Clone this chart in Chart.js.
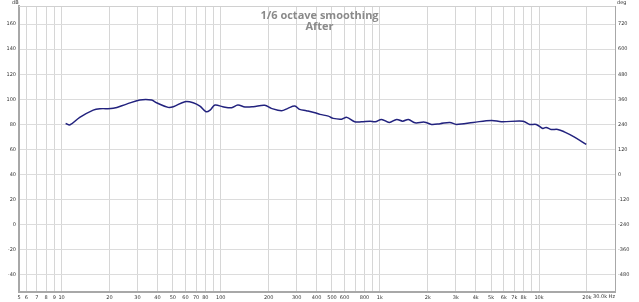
<!DOCTYPE html>
<html>
<head>
<meta charset="utf-8">
<script src="https://cdn.jsdelivr.net/npm/chart.js@4.4.1/dist/chart.umd.min.js"></script>
<style>
  html, body { margin: 0; padding: 0; background: #fff; }
  #wrap { width: 639px; height: 302px; }
</style>
</head>
<body>
<div id="wrap"><canvas id="spl" width="639" height="302"></canvas></div>
<script>
const freqHz = [10.6, 11.3, 13.0, 15.8, 17.4, 21.1, 25.6, 31.0, 36.8, 39.5, 46.7, 50.3, 59.6, 67.1, 74.0,
  80.8, 85.7, 91.9, 103, 117, 128, 142, 160, 189, 208, 241, 264, 292, 313, 345, 391, 420, 474,
  509, 575, 620, 695, 766, 868, 935, 1025, 1145, 1275, 1390, 1510, 1660, 1910, 2110, 2390, 2750,
  3030, 3860, 5030, 5810, 7930, 8730, 9600, 10550, 11070, 11900, 13100, 14400, 16600, 19800];
const splDb = [80.8, 79.7, 85.6, 91.4, 92.5, 92.8, 96.2, 99.4, 99.4, 97.3, 93.6, 94.1, 98.1, 97.3, 94.6,
  90.1, 91.4, 95.4, 94.1, 93.3, 95.4, 93.9, 94.1, 95.2, 92.8, 90.9, 92.8, 94.6, 92.0, 90.9, 89.3, 88.0, 86.6,
  84.8, 84.2, 85.6, 82.1, 82.1, 82.6, 82.1, 84.0, 81.6, 84.0, 82.6, 84.0, 81.3, 81.8, 80.0, 80.6, 81.6,
  80.0, 81.6, 83.2, 82.1, 82.6, 80.0, 80.0, 76.8, 77.6, 76.0, 76.0, 74.1, 70.1, 64.0];

const tickHz = [5.4, 6, 7, 8, 9, 10, 20, 30, 40, 50, 60, 70, 80, 90, 100, 200, 300, 400, 500, 600, 700, 800, 900,
  1000, 2000, 3000, 4000, 5000, 6000, 7000, 8000, 9000, 10000, 20000, 30000];
const tickLabels = ['5', '6', '7', '8', '9', '10', '20', '30', '40', '50', '60', '70', '80', '', '100', '200', '300', '400', '500', '600', '', '800', '',
  '1k', '2k', '3k', '4k', '5k', '6k', '7k', '8k', '', '10k', '20k', ''];
const dbTicks = [-40, -20, 0, 20, 40, 60, 80, 100, 120, 140, 160];
const degTicks = [-480, -360, -240, -120, 0, 120, 240, 360, 480, 600, 720];

const titleLines = ['1/6 octave smoothing', 'After'];

const tickFont = { family: 'DejaVu Sans', size: 5 };

const overlay = {
  id: 'overlay',
  afterDraw(chart) {
    const { ctx, chartArea: a } = chart;
    ctx.save();
    ctx.strokeStyle = '#d0d0d0';
    ctx.lineWidth = 1;
    ctx.beginPath();
    ctx.moveTo(a.left, a.top + 0.5);
    ctx.lineTo(a.right, a.top + 0.5);
    ctx.stroke();

    ctx.fillStyle = '#8a8a8a';
    ctx.textAlign = 'center';
    ctx.textBaseline = 'alphabetic';
    ctx.font = 'bold 11px "Open Sans"';
    ctx.fillText(titleLines[0], 319.5, 19);
    ctx.fillText(titleLines[1], 319.5, 30);

    ctx.fillStyle = '#333';
    ctx.font = '5px "DejaVu Sans"';
    ctx.textBaseline = 'middle';
    ctx.textAlign = 'left';
    ctx.fillText('dB', 12, 3);
    ctx.fillText('deg', 617, 3);
    ctx.textAlign = 'right';
    ctx.fillText('30.0k Hz', a.right, 297);
    ctx.restore();
  }
};

new Chart(document.getElementById('spl'), {
  type: 'line',
  data: {
    datasets: [{
      data: freqHz.map((f, i) => ({ x: f, y: splDb[i] })),
      borderColor: '#22227e',
      borderWidth: 1.5,
      pointRadius: 0,
      tension: 0.35,
      fill: false
    }]
  },
  options: {
    responsive: false,
    animation: false,
    layout: { padding: { top: 6, left: 0, right: 0, bottom: 0 } },
    scales: {
      x: {
        type: 'logarithmic',
        min: 5.4,
        max: 30000,
        afterBuildTicks: (s) => { s.ticks = tickHz.map(v => ({ value: v })); },
        afterFit: (s) => { s.height = 10; },
        grid: { color: '#d6d6d6', drawTicks: false },
        border: { color: '#a8a8a8', width: 2 },
        ticks: {
          autoSkip: false, maxRotation: 0, padding: 2.5, color: '#333', font: tickFont,
          callback: (v, i) => tickLabels[i]
        }
      },
      y: {
        position: 'left',
        min: -53.6,
        max: 174.4,
        afterBuildTicks: (s) => { s.ticks = dbTicks.map(v => ({ value: v })); },
        afterFit: (s) => { s.width = 19; },
        grid: { color: '#dcdcdc', drawTicks: false },
        border: { color: '#a8a8a8', width: 2 },
        ticks: { padding: 3, color: '#333', font: tickFont }
      },
      y2: {
        position: 'right',
        min: -561.6,
        max: 806.4,
        afterBuildTicks: (s) => { s.ticks = degTicks.map(v => ({ value: v })); },
        afterFit: (s) => { s.width = 24; },
        grid: { drawOnChartArea: false, drawTicks: false },
        border: { color: '#a8a8a8', width: 1 },
        ticks: { padding: 3, color: '#333', font: tickFont }
      }
    },
    plugins: {
      legend: { display: false },
      tooltip: { enabled: false }
    }
  },
  plugins: [overlay]
});
</script>
</body>
</html>
